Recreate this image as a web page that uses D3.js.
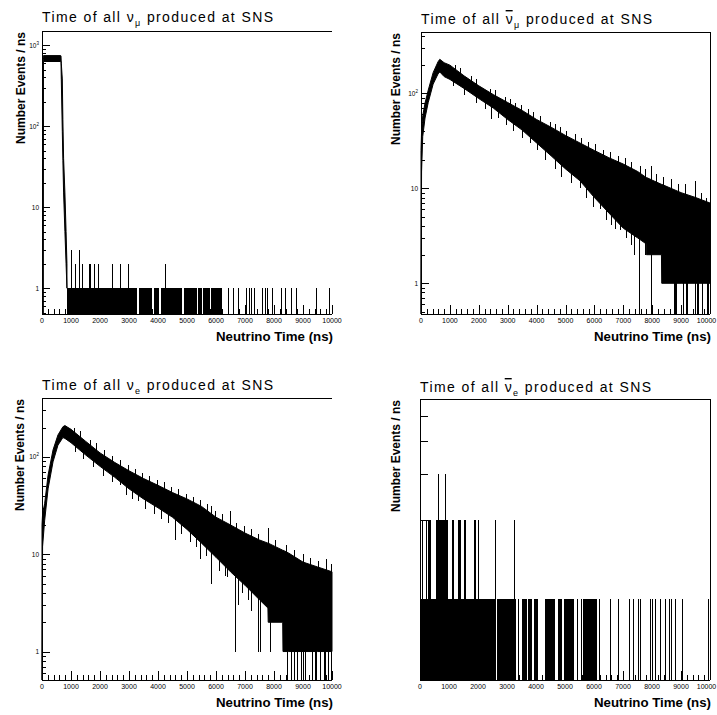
<!DOCTYPE html>
<html>
<head>
<meta charset="utf-8">
<script src="https://cdnjs.cloudflare.com/ajax/libs/d3/7.8.5/d3.min.js"></script>
<style>
  html, body { margin: 0; padding: 0; background: #fff; }
  svg { display: block; font-family: "Liberation Sans", Arial, Helvetica, sans-serif; }
</style>
</head>
<body>
<svg id="chart" width="717" height="715"></svg>
<script>
// Neutrino production time at SNS - four log-y histograms (0..10000 ns)

const xTickLabels = ["0", "1000", "2000", "3000", "4000", "5000", "6000", "7000", "8000", "9000", "10000"];

// nu_mu : prompt plateau from pion decay, then sparse counts
const numuEnvTime = [40, 50, 640, 655, 665, 700, 720, 745, 790, 830, 860];
const numuEnvHigh = [740, 745, 745, 740, 600, 384, 120, 40, 15, 5, 2];
const numuEnvLow  = [0, 630, 630, 630, 380, 86, 38, 15, 5, 2, 1];
// [start, end, count] runs of filled bins
const numuRuns = [[860, 3260, 1], [3330, 3790, 1], [3860, 4050, 1], [4110, 4830, 1], [4890, 5330, 1],
  [5370, 5520, 1], [5560, 5800, 1], [5840, 6200, 1]];
// [time, count] single bins
const numuBins = [[988, 3], [1138, 2], [1287, 3], [1385, 2], [1620, 2], [1670, 2], [1805, 2], [1943, 2],
  [2400, 2], [2690, 2], [2977, 2], [4253, 2],
  [6425, 1], [6600, 1], [6770, 1], [7050, 1], [7150, 1], [7210, 1], [7320, 1], [7575, 1], [7690, 1],
  [7750, 1], [7920, 1], [8250, 1], [8390, 1], [8590, 1], [8760, 1], [9450, 1], [9890, 1]];

// anti nu_mu : muon decay, rise then exponential fall
const numubEnvTime = [0, 20, 60, 140, 250, 420, 590, 650, 800, 1000, 1500, 2000, 2500, 3000, 3500, 4000, 4500,
  5000, 5500, 6000, 6500, 7000, 7500, 7790, 7800, 8320, 8330, 9000, 9500, 10000];
const numubEnvHigh = [25, 40, 58, 79, 108, 165, 215, 228, 210, 198, 152, 120, 97, 80, 66, 53, 44,
  36, 30, 25, 21, 18, 15, 13, 13, 11, 11, 9, 8, 7];
const numubEnvLow  = [0, 15, 35, 55, 80, 125, 160, 168, 150, 140, 112, 88, 70, 53, 41, 30, 22,
  16, 12, 8, 5.5, 3.8, 3, 2.6, 2, 2, 1, 1, 1, 1];
// [time, count] bins sticking out of the band (0 = empty bin)
const numubOutliers = [[2410, 54], [3760, 30], [4860, 13], [5490, 10], [6180, 6], [6590, 4.1], [6870, 3.6],
  [7100, 3], [7370, 2], [7740, 2], [8370, 1], [7540, 0], [7975, 0], [8760, 0], [8800, 0], [8840, 0],
  [9080, 0], [9180, 0], [9200, 0], [9480, 0], [9560, 0], [9600, 0], [9710, 0], [9880, 0], [9940, 0],
  [6300, 25], [7970, 17], [9470, 12], [9870, 8], [0, 25],
  [1165, 200], [1338, 185], [1742, 152], [1915, 140], [2376, 112], [2549, 108], [2895, 92], [3068, 88],
  [3241, 80], [3472, 76], [3702, 68], [3875, 64], [4106, 58], [4452, 50], [4625, 48], [4798, 44],
  [5029, 40], [5317, 37], [5548, 34], [5778, 31], [6009, 29], [6528, 24], [6817, 22], [7047, 21],
  [7278, 19], [7566, 17], [7739, 16], [8143, 14], [8373, 13], [8662, 12.5], [8892, 11], [9123, 11], [9700, 9],
  [1100, 118], [1480, 95], [1900, 80], [2200, 68], [2650, 55], [2950, 46], [3200, 40], [3480, 34],
  [4020, 25], [4300, 20], [4650, 16], [5200, 11.5], [5700, 8], [5950, 6.3], [6400, 4.6], [6720, 3.7], [7250, 2.5]];

// nu_e : muon decay
const nueEnvTime = [0, 20, 90, 210, 380, 550, 720, 790, 1000, 1500, 2000, 2500, 3000, 3500, 4000, 4500,
  5000, 5500, 6000, 6500, 7000, 7500, 7790, 7800, 8300, 8310, 8500, 9000, 9500, 10000];
const nueEnvHigh = [20, 26, 33, 65, 118, 168, 204, 210, 192, 145, 110, 88, 72, 60, 51, 43,
  37, 31, 24, 20, 16.5, 14, 13, 13, 11, 11, 10.3, 8.3, 7.4, 6.6];
const nueEnvLow  = [0, 12, 22, 47, 89, 132, 158, 155, 140, 105, 80, 62, 47, 37, 30, 24,
  18, 13, 9.3, 6.6, 4.8, 3.4, 2.8, 2, 2, 1, 1, 1, 1, 1];
const nueOutliers = [[2680, 52], [3310, 35], [4575, 14], [5440, 9], [5816, 5], [6390, 5.9], [6644, 1],
  [6760, 3], [7220, 2.6], [7450, 1], [7520, 1], [7860, 1], [8460, 0], [8580, 0], [8680, 0], [8800, 0],
  [8940, 0], [9010, 0], [9060, 0], [9300, 0], [9420, 0], [9460, 0], [9590, 0], [9720, 0], [9760, 0],
  [9870, 0], [9975, 0], [5840, 31], [6470, 27.5], [7794, 18.5], [9806, 9], [0, 20],
  [1100, 200], [1300, 185], [1650, 150], [1850, 138], [2150, 118], [2400, 102], [2700, 94], [2950, 82],
  [3200, 76], [3450, 68], [3700, 64], [3950, 58], [4200, 55], [4450, 49], [4700, 47], [4950, 42],
  [5200, 39], [5450, 36], [5700, 33], [5950, 28], [6200, 26], [6700, 21], [6950, 19.5], [7200, 18],
  [7450, 16], [8050, 14], [8400, 12.5], [8700, 11], [9000, 10], [9250, 9.2], [9500, 8.6], [9950, 8],
  [1150, 112], [1400, 95], [1750, 78], [2100, 64], [2400, 55], [2900, 41], [3100, 37], [3550, 29],
  [3850, 26], [4100, 23], [4350, 21], [4800, 16], [5100, 13.5], [5300, 12], [5650, 9.5], [6100, 6.8],
  [6300, 6], [6900, 4], [7100, 3.4]];

// anti nu_e : only a handful of counts
const nuebRuns = [[0, 2590, 1], [2670, 3310, 1], [3500, 3680, 1], [3740, 3870, 1], [3930, 4060, 1],
  [4310, 4650, 1], [4750, 4890, 1], [4980, 5310, 1], [5630, 6090, 1],
  [290, 390, 2], [560, 960, 2], [1110, 1160, 2], [1320, 1400, 2], [1500, 1580, 2], [1850, 1930, 2]];
const nuebBins = [[57, 2], [200, 2], [632, 3], [862, 3], [1990, 2], [2586, 2], [3241, 2],
  [3367, 1], [5425, 1], [5540, 1], [6183, 1], [6551, 1], [6816, 1], [7218, 1], [7356, 1], [7506, 1],
  [7586, 1], [7931, 1], [8012, 1], [8104, 1], [8276, 1], [8448, 1], [8586, 1], [8655, 1], [8793, 1],
  [9023, 1], [9919, 1]];

// Pad layout
const pads = [
  { flavour: "μ", bar: false, left: 42, right: 332, top: 31, bottom: 314, yDomain: [0.48, 1500],
    frameRight: false, titleY: 22, yTitleX: 25,
    env: [numuEnvTime, numuEnvHigh, numuEnvLow], runs: numuRuns, bins: numuBins, outliers: [] },
  { flavour: "μ", bar: true, left: 421, right: 710, top: 32, bottom: 314, yDomain: [0.475, 442],
    frameRight: true, titleY: 24, yTitleX: 400,
    env: [numubEnvTime, numubEnvHigh, numubEnvLow], runs: [], bins: [], outliers: numubOutliers },
  { flavour: "e", bar: false, left: 42, right: 332, top: 398, bottom: 680, yDomain: [0.51, 403],
    frameRight: false, titleY: 390, yTitleX: 24,
    env: [nueEnvTime, nueEnvHigh, nueEnvLow], runs: [], bins: [], outliers: nueOutliers },
  { flavour: "e", bar: true, left: 420, right: 710, top: 399, bottom: 680, yDomain: [0.493, 5.8],
    frameRight: true, titleY: 392, yTitleX: 400, linearTicks: [1, 2, 3, 4, 5],
    env: null, runs: nuebRuns, bins: nuebBins, outliers: [] }
];

const W = 717;
const svg = d3.select("#chart");
svg.append("rect").attr("width", W).attr("height", 715).attr("fill", "#fff");

pads.forEach(drawPad);

function drawPad(p) {
  const g = svg.append("g");
  const x = d3.scaleLinear().domain([0, 10000]).range([p.left, p.right]);
  const y = d3.scaleLog().domain(p.yDomain).range([p.bottom, p.top]).clamp(true);
  const yv = v => v > 0 ? y(v) : p.bottom;
  const px = t => Math.round(x(t)) + 0.5;

  const data = g.append("g").attr("class", "data");

  // band of the dense histogram
  let midAt = null;
  if (p.env) {
    const [tt, hi, lo] = p.env;
    const pts = tt.map((t, i) => ({ t, hi: hi[i], lo: lo[i] }));
    data.append("path")
      .datum(pts)
      .attr("d", d3.area().x(d => x(d.t)).y0(d => yv(d.lo)).y1(d => yv(d.hi)))
      .attr("fill", "#000")
      .attr("stroke", "#000")
      .attr("stroke-width", 1)
      .attr("stroke-linejoin", "miter");
    const hiAt = d3.scaleLinear().domain(tt).range(hi).clamp(true);
    const loAt = d3.scaleLinear().domain(tt).range(lo).clamp(true);
    midAt = t => (yv(hiAt(t)) + yv(loAt(t))) / 2;
  }

  data.selectAll("rect.run")
    .data(p.runs)
    .join("rect")
    .attr("class", "run")
    .attr("x", d => Math.round(x(d[0])))
    .attr("width", d => Math.max(1, Math.round(x(d[1])) - Math.round(x(d[0]))))
    .attr("y", d => Math.round(yv(d[2])))
    .attr("height", d => p.bottom - Math.round(yv(d[2])))
    .attr("fill", "#000")
    .attr("shape-rendering", "crispEdges");

  data.selectAll("line.bin")
    .data(p.bins)
    .join("line")
    .attr("class", "bin")
    .attr("x1", d => px(d[0])).attr("x2", d => px(d[0]))
    .attr("y1", p.bottom).attr("y2", d => Math.round(yv(d[1])))
    .attr("stroke", "#000")
    .attr("shape-rendering", "crispEdges");

  data.selectAll("line.outlier")
    .data(p.outliers)
    .join("line")
    .attr("class", "outlier")
    .attr("x1", d => px(d[0])).attr("x2", d => px(d[0]))
    .attr("y1", d => Math.round(yv(d[1]))).attr("y2", d => midAt(d[0]))
    .attr("stroke", "#000")
    .attr("shape-rendering", "crispEdges");

  // frame
  const frame = g.append("g")
    .attr("stroke", "#000")
    .attr("stroke-width", 1)
    .attr("shape-rendering", "crispEdges");
  frame.append("line").attr("x1", p.left).attr("x2", p.right).attr("y1", p.top + 0.5).attr("y2", p.top + 0.5);
  frame.append("line").attr("x1", p.left).attr("x2", p.right).attr("y1", p.bottom + 0.5).attr("y2", p.bottom + 0.5);
  frame.append("line").attr("x1", p.left + 0.5).attr("x2", p.left + 0.5).attr("y1", p.top).attr("y2", p.bottom);
  if (p.frameRight) {
    frame.append("line").attr("x1", p.right + 0.5).attr("x2", p.right + 0.5).attr("y1", p.top).attr("y2", p.bottom);
  }

  // x ticks (inside the frame)
  const xTicks = d3.range(0, 10001, 200);
  frame.selectAll("line.xt")
    .data(xTicks)
    .join("line")
    .attr("class", "xt")
    .attr("x1", d => px(d)).attr("x2", d => px(d))
    .attr("y1", p.bottom).attr("y2", d => p.bottom - (d % 1000 === 0 ? 9 : 5));

  g.selectAll("text.xl")
    .data(xTickLabels)
    .join("text")
    .attr("class", "xl")
    .attr("x", d => Math.min(x(+d), W - 1 - d.length * 1.9))
    .attr("y", p.bottom + 8.5)
    .attr("text-anchor", "middle")
    .attr("font-size", 7)
    .text(d => d);

  // y ticks
  let yTicks;
  if (p.linearTicks) {
    yTicks = p.linearTicks.map(v => ({ v, major: true, label: null }));
  } else {
    yTicks = [];
    for (let k = -1; k <= 3; k++) {
      for (let m = 1; m <= 9; m++) {
        const v = m * Math.pow(10, k);
        if (v < p.yDomain[0] || v > p.yDomain[1]) continue;
        yTicks.push({ v, major: m === 1, label: m === 1 && k >= 0 ? k : null });
      }
    }
  }
  frame.selectAll("line.yt")
    .data(yTicks)
    .join("line")
    .attr("class", "yt")
    .attr("x1", p.left).attr("x2", d => p.left + (d.major ? 8 : 4))
    .attr("y1", d => Math.round(y(d.v)) + 0.5).attr("y2", d => Math.round(y(d.v)) + 0.5);

  const yl = g.selectAll("text.yl")
    .data(yTicks.filter(d => d.label !== null))
    .join("text")
    .attr("class", "yl")
    .attr("x", p.left - 3)
    .attr("y", d => y(d.v) + 2.5)
    .attr("text-anchor", "end")
    .attr("font-size", 6.5);
  yl.each(function(d) {
    const t = d3.select(this);
    if (d.label === 0) t.text("1");
    else if (d.label === 1) t.text("10");
    else {
      t.append("tspan").text("10");
      t.append("tspan").attr("dy", -3).attr("font-size", 4.5).text(d.label);
    }
  });

  // titles
  const title = g.append("text")
    .attr("x", p.left)
    .attr("y", p.titleY)
    .attr("font-size", 14)
    .attr("textLength", 231)
    .attr("lengthAdjust", "spacing");
  title.append("tspan").text("Time of all ");
  const nu = title.append("tspan").text("ν");
  if (p.bar) nu.style("text-decoration", "overline");
  title.append("tspan").attr("dy", 4).attr("font-size", 9).text(p.flavour);
  title.append("tspan").attr("dy", -4).text(" produced at SNS");

  g.append("text")
    .attr("x", p.right + 1)
    .attr("y", p.bottom + 27)
    .attr("text-anchor", "end")
    .attr("font-size", 13)
    .attr("font-weight", "bold")
    .attr("textLength", 117)
    .attr("lengthAdjust", "spacingAndGlyphs")
    .text("Neutrino Time (ns)");

  g.append("text")
    .attr("transform", `translate(${p.yTitleX},${p.top + 1}) rotate(-90)`)
    .attr("text-anchor", "end")
    .attr("font-size", 12)
    .attr("font-weight", "bold")
    .text("Number Events / ns");
}
</script>
</body>
</html>
